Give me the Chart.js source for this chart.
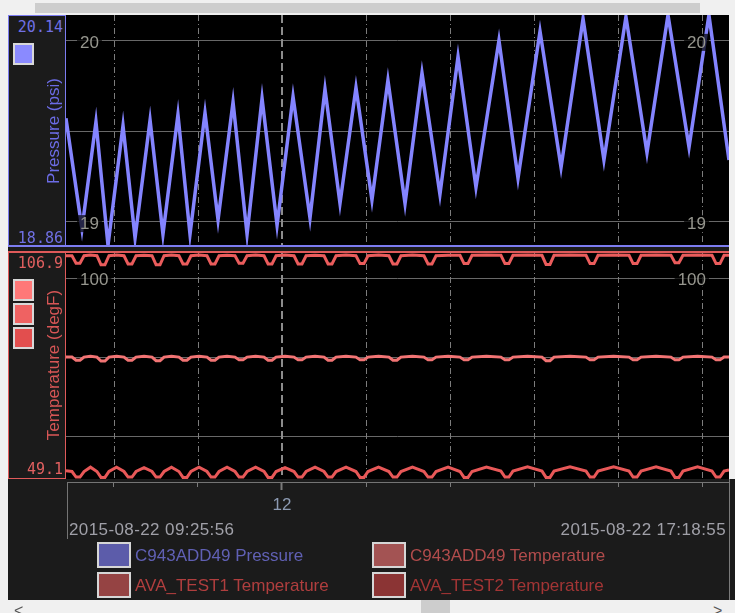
<!DOCTYPE html>
<html><head><meta charset="utf-8">
<title>Pressure / Temperature</title>
<script src="https://cdn.jsdelivr.net/npm/chart.js@4.4.1/dist/chart.umd.min.js"></script>
<style>
html,body{margin:0;padding:0}
body{width:735px;height:613px;overflow:hidden;background:#f0f0f0;position:relative;font-family:"Liberation Sans",Arial,sans-serif}
div,canvas,span{position:absolute;box-sizing:border-box}
#panel{left:8px;top:15px;width:721px;height:585px;background:#1b1b1b}
#panelR{left:729px;top:479px;width:6px;height:121px;background:#1b1b1b;border-left:1px solid #7a7a7a}
#topbar{left:35px;top:3px;width:665px;height:10px;background:#cdcdcd}
#thumb{left:421px;top:600px;width:29px;height:13px;background:#cdcdcd}
#cP{left:66px;top:15px}
#cT{left:66px;top:251px}
.box{left:8px;width:58px;background:#1b1b1b}
#boxP{top:15px;height:232px;border:1px solid #7c7cf0;border-bottom:none}
#boxT{top:251px;height:228px;border:1px solid #e05a5a}
#sepB{left:8px;top:245px;width:721px;height:2px;background:#7c7cf0}
#sepR{left:8px;top:251px;width:721px;height:2px;background:#e05a5a}
.num{left:8px;width:55px;text-align:right;font-family:"DejaVu Sans Mono",monospace;font-size:15px;line-height:18px;white-space:nowrap}
.sw{left:13px;width:21px;height:22px;border:2px solid #d8d8d8}
.rot{width:200px;height:20px;line-height:20px;font-size:17px;text-align:center;transform:rotate(-90deg);white-space:nowrap}
#axH{left:67px;top:482px;width:662px;height:1px;background:#747474}
#axV{left:67px;top:482px;width:1px;height:57px;background:#747474}
.date{top:520px;font-size:17px;line-height:20px;letter-spacing:0.4px;color:#a0a0a8;white-space:nowrap}
.lsq{width:34px;height:26px;border:2px solid #d6d6d6}
.ltx{font-size:17px;line-height:20px;white-space:nowrap}
.arr{top:603px;font-size:16px;line-height:16px;color:#555}
</style></head>
<body>
<div id="topbar"></div>
<div id="panel"></div>
<div id="panelR"></div>
<canvas id="cP" width="663" height="232"></canvas>
<canvas id="cT" width="663" height="289"></canvas>
<div id="boxP" class="box"></div>
<div id="boxT" class="box"></div>
<div id="sepB"></div>
<div id="sepR"></div>
<div id="axH"></div>
<div id="axV"></div>
<div id="pMax" class="num" style="top:18px"></div>
<div id="pMin" class="num" style="top:229px"></div>
<div id="tMax" class="num" style="top:254px"></div>
<div id="tMin" class="num" style="top:460px"></div>
<div id="pTitle" class="rot" style="left:-46.5px;top:120.5px"></div>
<div id="tTitle" class="rot" style="left:-46.5px;top:354.5px"></div>
<div id="dStart" class="date" style="left:69px"></div>
<div id="dEnd" class="date" style="left:426px;width:300px;text-align:right"></div>
<div id="thumb"></div>
<span class="arr" style="left:14px">&lt;</span>
<span class="arr" style="left:713px">&gt;</span>
<script>
// ---------- data (time = minutes after 09:00 on 2015-08-22) ----------
const startMin = 25.93, endMin = 498.92;
const startLabel = '2015-08-22 09:25:56';
const endLabel = '2015-08-22 17:18:55';
const hourTicks = [60, 120, 180, 240, 300, 360, 420, 480];
const hourTickLabels = ['', '', '12', '', '', '', '', ''];

const pressureRange = [18.86, 20.14];
const pressureGrid = [19, 19.5, 20];
const pressureGridLabels = ['19', '', '20'];
const tempRange = [49.1, 106.9];
const tempGrid = [60, 80, 100];
const tempGridLabels = ['', '', '100'];

const pressureTime = [25.9, 37.3, 47.3, 55.9, 66.6, 75.2, 85.9, 95.1, 105.8, 114.4,
  125.1, 134.4, 145.1, 155.1, 165.8, 176.5, 187.9, 200.0, 210.7, 221.4,
  232.8, 244.2, 255.6, 267.8, 279.9, 292.7, 305.6, 318.4, 334.8, 348.4,
  364.1, 379.1, 394.8, 409.7, 425.4, 440.4, 455.4, 470.4, 484.6, 498.9];
const pressureValue = [19.57, 18.96, 19.55, 18.87, 19.53, 18.91, 19.56, 18.93, 19.59, 18.93,
  19.60, 19.01, 19.66, 18.93, 19.68, 18.98, 19.69, 19.02, 19.73, 19.10,
  19.74, 19.12, 19.78, 19.10, 19.82, 19.15, 19.91, 19.19, 20.00, 19.24,
  20.05, 19.30, 20.12, 19.34, 20.13, 19.38, 20.14, 19.41, 20.14, 19.34];

const tempTime = [25.9,
  30.2, 33.1, 35.9, 38.8, 43.4,   48.0, 50.9, 53.7, 56.6, 62.0,
  67.3, 70.2, 73.0, 75.9, 81.6,   87.3, 90.2, 93.0, 95.9, 101.2,
  106.5, 109.4, 112.2, 115.1, 120.8,   126.5, 129.4, 132.2, 135.1, 140.8,
  146.5, 149.4, 152.2, 155.1, 161.2,   167.2, 170.1, 172.9, 175.8, 182.2,
  188.6, 191.5, 194.3, 197.2, 203.6,   210.0, 212.9, 215.7, 218.6, 225.7,
  232.8, 235.7, 238.5, 241.4, 248.9,   256.3, 259.2, 262.0, 264.9, 273.1,
  281.3, 284.2, 287.0, 289.9, 298.5,   307.0, 309.9, 312.7, 315.6, 325.9,
  336.2, 339.1, 341.9, 344.8, 355.2,   365.5, 368.4, 371.2, 374.1, 385.5,
  396.9, 399.8, 402.6, 405.5, 416.6,   427.6, 430.5, 433.3, 436.2, 446.9,
  457.5, 460.4, 463.2, 466.1, 476.5,   486.8, 489.7, 492.5, 495.4, 498.9];

const tempC943 = [80.0,
  80.0, 79.2, 79.2, 80.0, 80.2,   80.0, 79.0, 79.0, 80.0, 80.2,
  80.0, 79.2, 79.2, 80.0, 80.2,   80.0, 79.1, 79.1, 80.0, 80.2,
  80.0, 79.2, 79.2, 80.0, 80.2,   80.0, 79.2, 79.2, 80.0, 80.2,
  80.0, 79.3, 79.3, 80.0, 80.2,   80.0, 79.2, 79.2, 80.0, 80.2,
  80.0, 79.3, 79.3, 80.0, 80.2,   80.0, 79.2, 79.2, 80.0, 80.2,
  80.0, 79.3, 79.3, 80.0, 80.2,   80.0, 79.2, 79.2, 80.0, 80.2,
  80.0, 79.3, 79.3, 80.0, 80.2,   80.0, 79.3, 79.3, 80.0, 80.2,
  80.0, 79.3, 79.3, 80.0, 80.2,   80.0, 79.1, 79.1, 80.0, 80.2,
  80.0, 79.3, 79.3, 80.0, 80.2,   80.0, 79.3, 79.3, 80.0, 80.2,
  80.0, 79.3, 79.3, 80.0, 80.2,   80.0, 79.3, 79.3, 80.0, 80.0];

const tempAva1 = [105.7,
  105.7, 103.8, 103.8, 105.7, 105.9,   105.7, 103.4, 103.4, 105.7, 105.9,
  105.7, 103.6, 103.6, 105.7, 105.8,   105.7, 103.4, 103.4, 105.7, 105.9,
  105.7, 103.6, 103.6, 105.7, 105.9,   105.7, 103.6, 103.6, 105.7, 105.8,
  105.7, 103.8, 103.8, 105.7, 105.9,   105.7, 103.6, 103.6, 105.7, 105.9,
  105.7, 103.6, 103.6, 105.7, 105.8,   105.7, 103.6, 103.6, 105.7, 105.9,
  105.7, 103.7, 103.7, 105.7, 105.9,   105.7, 103.6, 103.6, 105.7, 105.9,
  105.7, 103.6, 103.6, 105.7, 105.8,   105.8, 103.7, 103.7, 105.8, 105.9,
  105.8, 103.7, 103.7, 105.8, 105.9,   105.8, 103.5, 103.5, 105.8, 105.9,
  105.8, 103.7, 103.7, 105.8, 105.9,   105.8, 103.7, 103.7, 105.8, 105.9,
  105.8, 103.9, 103.9, 105.8, 105.9,   105.8, 103.7, 103.7, 105.8, 105.8];

const tempAva2 = [51.2,
  51.0, 49.6, 49.6, 51.0, 52.1,   51.0, 49.5, 49.5, 51.0, 52.1,
  51.0, 49.6, 49.6, 51.0, 52.0,   51.0, 49.6, 49.6, 51.0, 52.1,
  51.0, 49.5, 49.5, 51.0, 52.1,   51.0, 49.6, 49.6, 51.0, 52.1,
  51.0, 49.6, 49.6, 51.0, 52.1,   51.0, 49.5, 49.5, 51.0, 52.0,
  51.0, 49.6, 49.6, 51.0, 52.1,   51.0, 49.6, 49.6, 51.0, 52.1,
  51.0, 49.5, 49.5, 51.0, 52.1,   51.0, 49.6, 49.6, 51.0, 52.1,
  51.0, 49.6, 49.6, 51.0, 52.1,   51.0, 49.5, 49.5, 51.0, 52.1,
  51.1, 49.6, 49.6, 51.1, 52.2,   51.1, 49.5, 49.5, 51.1, 52.2,
  51.1, 49.6, 49.6, 51.1, 52.2,   51.1, 49.6, 49.6, 51.1, 52.2,
  51.1, 49.5, 49.5, 51.1, 52.2,   51.1, 49.6, 49.6, 51.1, 51.4];

const seriesNames = ['C943ADD49 Pressure', 'C943ADD49 Temperature', 'AVA_TEST1 Temperature', 'AVA_TEST2 Temperature'];
const lineColors = ['#8484ff', '#f27474', '#ea5c5c', '#e85858'];
const boxSwatches = ['#8a8aff', '#ff7878', '#ef6262', '#e24e4e'];
const legendFill = ['#5c5caa', '#a35353', '#954343', '#8b3434'];
const legendText = ['#6060b4', '#b24c4c', '#b03e3e', '#a33535'];
const axisTitles = ['Pressure (psi)', 'Temperature (degF)'];

// ---------- html texts ----------
const $ = id => document.getElementById(id);
$('pMax').textContent = pressureRange[1].toFixed(2); $('pMax').style.color = '#7070e4';
$('pMin').textContent = pressureRange[0].toFixed(2); $('pMin').style.color = '#7070e4';
$('tMax').textContent = tempRange[1].toFixed(1); $('tMax').style.color = '#e26060';
$('tMin').textContent = tempRange[0].toFixed(1); $('tMin').style.color = '#e26060';
$('pTitle').textContent = axisTitles[0]; $('pTitle').style.color = '#6c6ce6';
$('tTitle').textContent = axisTitles[1]; $('tTitle').style.color = '#d85656';
$('dStart').textContent = startLabel; $('dEnd').textContent = endLabel;

function addDiv(cls, css, text) {
  const d = document.createElement('div'); d.className = cls; d.style.cssText = css;
  if (text) d.textContent = text; document.body.appendChild(d); return d;
}
addDiv('sw', 'top:43px;background:' + boxSwatches[0]);
addDiv('sw', 'top:279px;background:' + boxSwatches[1]);
addDiv('sw', 'top:303px;background:' + boxSwatches[2]);
addDiv('sw', 'top:327px;background:' + boxSwatches[3]);
const legPos = [[97, 542], [372, 542], [97, 572], [372, 572]];
seriesNames.forEach((n, i) => {
  const [lx, ly] = legPos[i];
  addDiv('lsq', 'left:' + lx + 'px;top:' + ly + 'px;background:' + legendFill[i]);
  addDiv('ltx', 'left:' + (lx + 38) + 'px;top:' + (ly + 4) + 'px;color:' + legendText[i], n);
});

// ---------- plugin: black plot area, dash-dot hour lines, in-plot value labels ----------
const plotDecor = {
  id: 'plotDecor',
  beforeDraw(chart) {
    const {ctx, chartArea: a} = chart;
    ctx.save(); ctx.fillStyle = '#000';
    ctx.fillRect(a.left, a.top, a.right - a.left, a.bottom - a.top); ctx.restore();
  },
  beforeDatasetsDraw(chart) {
    const {ctx, chartArea: a, scales: {x}} = chart;
    ctx.save(); ctx.beginPath(); ctx.rect(a.left, a.top, a.right - a.left, a.bottom - a.top); ctx.clip();
    hourTicks.forEach((v, i) => {
      const major = hourTickLabels[i] !== '';
      const px = Math.round(x.getPixelForValue(v));
      ctx.strokeStyle = major ? '#8c8c8c' : '#7c7c7c';
      ctx.lineWidth = major ? 2 : 1;
      ctx.setLineDash(major ? [8, 4] : [6, 3, 1, 3]);
      ctx.beginPath();
      ctx.moveTo(major ? px : px + 0.5, a.top); ctx.lineTo(major ? px : px + 0.5, a.bottom);
      ctx.stroke();
    });
    ctx.restore();
  },
  afterDatasetsDraw(chart) {
    const o = chart.options.plugins.plotDecor;
    const {ctx, chartArea: a, scales: {y}} = chart;
    ctx.save();
    ctx.font = '17px "Liberation Sans", Arial, sans-serif';
    ctx.textBaseline = 'middle';
    o.values.forEach((v, i) => {
      const t = o.labels[i]; if (!t) return;
      const py = y.getPixelForValue(v) + 2.5;
      const w = ctx.measureText(t).width;
      const xl = a.left + 14, xr = a.right - 23 - w;
      [xl, xr].forEach(x0 => {
        ctx.fillStyle = 'rgba(0,0,0,0.72)';
        ctx.fillRect(x0 - 3, py - 9, w + 6, 17);
        ctx.fillStyle = '#96968e';
        ctx.textAlign = 'left';
        ctx.fillText(t, x0, py);
      });
    });
    ctx.restore();
  }
};

Chart.defaults.font.family = '"Liberation Sans", Arial, sans-serif';

const toPts = (xs, ys) => xs.map((t, i) => ({x: t, y: ys[i]}));
const lineDs = (label, xs, ys, color, w) => ({
  label, data: toPts(xs, ys), borderColor: color, backgroundColor: color,
  borderWidth: w, pointRadius: 0, tension: 0, fill: false
});
const yScale = (range, grid) => ({
  type: 'linear', min: range[0], max: range[1], display: true,
  afterBuildTicks: s => { s.ticks = grid.map(v => ({value: v})); },
  afterFit: s => { s.width = 0; },
  ticks: {display: false},
  grid: {color: '#686868', lineWidth: 1, drawTicks: false},
  border: {display: false}
});
const baseOpts = {
  responsive: false, maintainAspectRatio: false, animation: false, devicePixelRatio: 1,
  layout: {padding: 0}, events: []
};

new Chart($('cP'), {
  type: 'line',
  data: {datasets: [lineDs(seriesNames[0], pressureTime, pressureValue, lineColors[0], 3.5)]},
  options: Object.assign({}, baseOpts, {
    plugins: {legend: {display: false}, tooltip: {enabled: false},
      plotDecor: {values: pressureGrid, labels: pressureGridLabels}},
    scales: {
      x: {type: 'linear', min: startMin, max: endMin, display: false},
      y: yScale(pressureRange, pressureGrid)
    }
  }),
  plugins: [plotDecor]
});

new Chart($('cT'), {
  type: 'line',
  data: {datasets: [
    lineDs(seriesNames[1], tempTime, tempC943, lineColors[1], 3),
    lineDs(seriesNames[2], tempTime, tempAva1, lineColors[2], 3),
    lineDs(seriesNames[3], tempTime, tempAva2, lineColors[3], 3)
  ]},
  options: Object.assign({}, baseOpts, {
    plugins: {legend: {display: false}, tooltip: {enabled: false},
      plotDecor: {values: tempGrid, labels: tempGridLabels}},
    scales: {
      x: {
        type: 'linear', min: startMin, max: endMin, position: 'bottom', display: true,
        afterBuildTicks: s => { s.ticks = hourTicks.map(v => ({value: v})); },
        afterFit: s => { s.height = 61; },
        border: {display: false},
        grid: {
          drawOnChartArea: false, drawTicks: true, tickLength: 11, tickColor: '#7a7a7a',
          tickWidth: c => (c.tick && hourTickLabels[hourTicks.indexOf(c.tick.value)] ? 2 : 1),
          tickBorderDash: c => (c.tick && hourTickLabels[hourTicks.indexOf(c.tick.value)] ? [0, 3, 8, 100] : [0, 3, 5, 100])
        },
        ticks: {
          autoSkip: false, maxRotation: 0, padding: 5, color: '#8c9ab2', font: {size: 17},
          callback: v => { const k = hourTicks.indexOf(v); return k >= 0 ? hourTickLabels[k] : ''; }
        }
      },
      y: yScale(tempRange, tempGrid)
    }
  }),
  plugins: [plotDecor]
});
</script>
</body></html>
